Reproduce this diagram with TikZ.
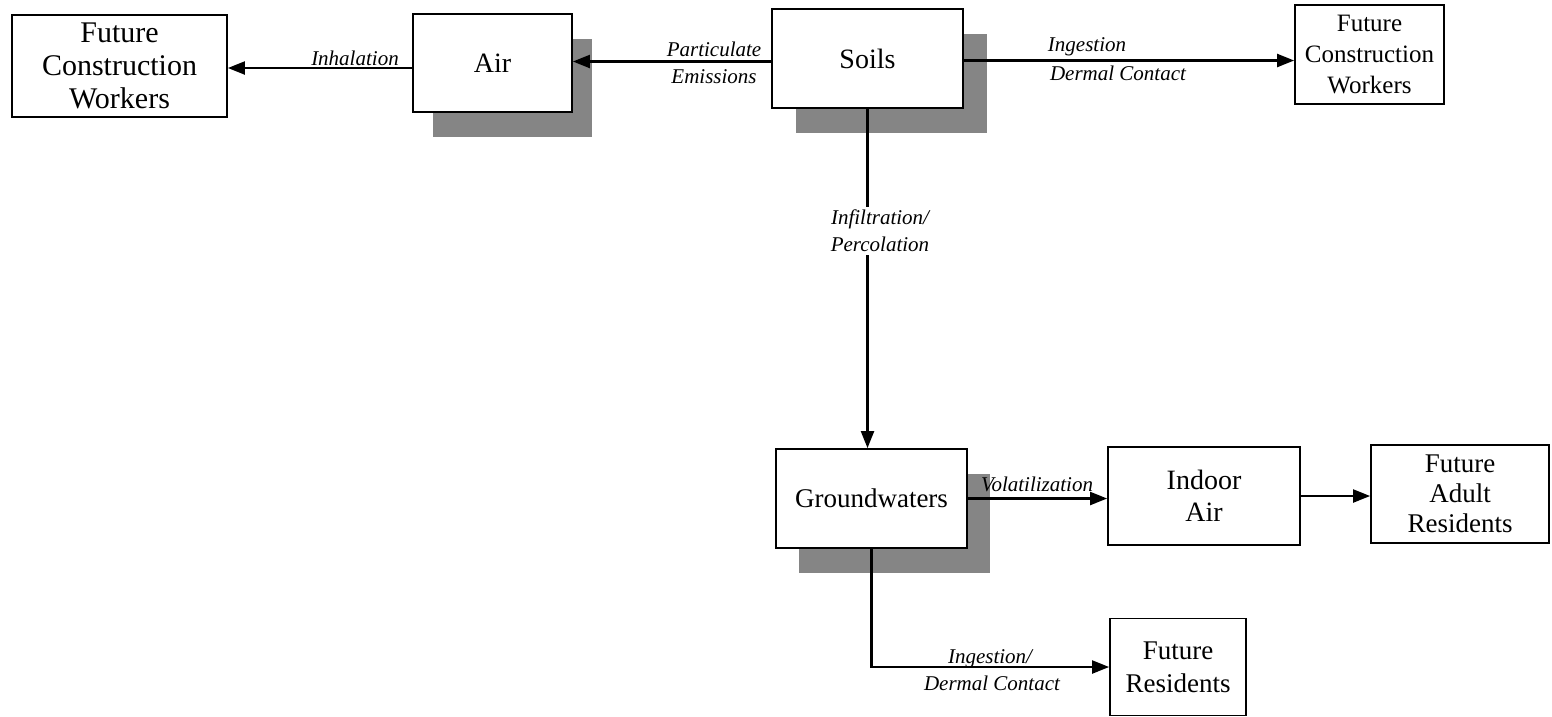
\documentclass[tikz,border=0pt]{standalone}
\usepackage{fontspec}
\setmainfont{Liberation Serif}
\usetikzlibrary{arrows.meta,shadows,calc}
\tikzset{
  box/.style={draw, line width=1.8pt, fill=white, inner sep=0pt, align=center,
    font=\fontsize{28}{32}\selectfont},
  shbox/.style={box, drop shadow={shadow xshift=#1, shadow yshift=-25pt, fill=black!48, opacity=1}},
  shbox/.default=22pt,
  lbl/.style={inner sep=0pt, align=center, font=\fontsize{21}{27}\selectfont\itshape},
  conn/.style={line width=2.2pt, -{Triangle[length=17pt,width=13pt]}},
}
\begin{document}
\begin{tikzpicture}[x=1pt,y=-1pt]
\useasboundingbox (0,0) rectangle (1552,716);
% boxes
\node[box, minimum width=215pt, minimum height=102pt, font=\fontsize{30}{33}\selectfont] (fcwl) at (119.5,66) {Future\\Construction\\Workers};
\node[shbox=20pt, minimum width=159pt, minimum height=98pt] (air) at (492.5,63) {Air};
\node[shbox=24pt, minimum width=191pt, minimum height=99pt] (soils) at (867.5,58.5) {Soils};
\node[box, minimum width=149pt, minimum height=99pt, font=\fontsize{25}{31}\selectfont] (fcwr) at (1369.5,54.5) {Future\\Construction\\Workers};
\node[shbox=23pt, minimum width=191pt, minimum height=99pt, font=\fontsize{27}{32}\selectfont] (gw) at (871.5,498.5) {Groundwaters};
\node[box, minimum width=192pt, minimum height=98pt] (indoor) at (1204,496) {Indoor\\Air};
\node[box, minimum width=178pt, minimum height=98pt, font=\fontsize{27}{30}\selectfont] (far) at (1460,494) {Future\\Adult\\Residents};
\node[box, minimum width=136pt, minimum height=97pt, font=\fontsize{27}{33}\selectfont] (fr) at (1178,667) {Future\\Residents};
% connectors
\draw[conn] ($(air.west)+(0,5)$) -- ($(air.west -| fcwl.east)+(0,5)$);
\draw[conn] ($(soils.west)+(0,3)$) -- ($(soils.west -| air.east)+(0,3)$);
\draw[conn] ($(soils.east)+(0,2)$) -- ($(soils.east -| fcwr.west)+(0,2)$);
\draw[conn] (soils.south) -- (soils.south |- gw.north);
\draw[conn] (gw.east) -- (gw.east -| indoor.west);
\draw[conn] (indoor.east) -- (indoor.east -| far.west);
\draw[conn] (gw.south) |- (fr.west);
% labels
\node[lbl] (l1) at (355,58) {Inhalation};
\node[lbl] (l2) at (714,63) {Particulate\\Emissions};
\node[lbl] (l3) at (1087,47) {Ingestion};
\node[lbl] (l4) at (1118,73) {Dermal Contact};
\node[lbl, fill=white, inner ysep=3pt] (l5) at (880,231) {Infiltration/\\Percolation};
\node[lbl] (l6) at (1037,484) {Volatilization};
\node[lbl] (l7) at (990,659) {Ingestion/};
\node[lbl] (l8) at (992,683) {Dermal Contact};
\end{tikzpicture}
\end{document}
